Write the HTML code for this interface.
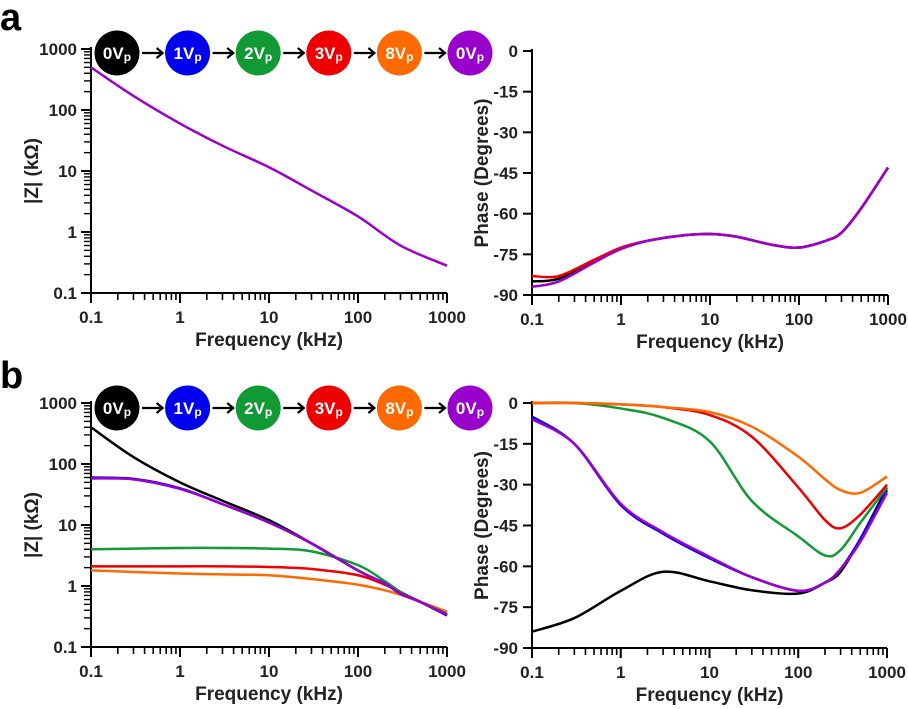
<!DOCTYPE html>
<html><head><meta charset="utf-8"><style>
body{margin:0;background:#fff;}
svg{display:block;font-family:"Liberation Sans",Arial,sans-serif;font-weight:bold;}
</style></head><body>
<svg id="fig" width="908" height="709" viewBox="0 0 908 709" xmlns="http://www.w3.org/2000/svg"></svg>
<script>
const freqA=[0.1,0.3,1,3,10,30,100,300,1000];
const zA=[500,170,60,26,11.5,4.8,1.8,0.6,0.28];
const freqAP=[0.1,0.2,0.5,1,2,5,10,20,50,100,200,300,500,1000];
const phA_purple=[-87,-85,-78,-73,-70,-68,-67.5,-68.5,-71.5,-72.5,-70,-67,-58,-43];
const phA_black=[-85,-84,-77.5,-73,-70,-68,-67.5,-68.5,-71.5,-72.5,-70,-67,-58,-43];
const phA_red=[-83,-83,-77,-72.5,-70,-68,-67.5,-68.5,-71.5,-72.5,-70,-67,-58,-43];
const freqB=[0.1,0.3,1,3,10,30,100,200,300,500,1000];
const zB_black=[400,130,50,25,12,5,1.8,1.1,0.75,0.55,0.33];
const zB_blue=[60,57,40,22,11,5,1.8,1.1,0.75,0.55,0.33];
const zB_purple=[58,56,39,22,11,5,1.8,1.1,0.75,0.55,0.34];
const zB_green=[4,4.1,4.2,4.2,4.1,3.7,2.2,1.2,0.8,0.55,0.35];
const zB_red=[2.1,2.1,2.1,2.1,2.05,1.9,1.5,1.05,0.8,0.55,0.35];
const zB_orange=[1.8,1.7,1.6,1.55,1.5,1.3,1.05,0.85,0.72,0.55,0.38];
const phB_black=[-84,-79,-69,-62,-65.5,-68.8,-70,-66,-62,-50,-31];
const phB_blue=[-5,-15,-37.5,-48,-57,-64,-69,-66,-61,-50,-32];
const phB_purple=[-6,-15,-37,-47.5,-56.5,-64,-69,-66,-61,-51,-33];
const phB_green=[0,0,-2,-5.5,-14,-36,-49,-56,-54,-44,-31];
const phB_red=[0,0,-0.5,-1.5,-4.4,-12.4,-31,-43,-46,-41,-30];
const phB_orange=[0,0,-0.5,-1.5,-3.3,-8.7,-19.7,-28,-32,-33,-27];
const stages=["0V","1V","2V","3V","8V","0V"];
const stageColors=["#000000","#0000ee","#119933","#ee0000","#ff6a00","#9900cc"];
const xTicks=[0.1,1,10,100,1000];
const xTickLabels=["0.1","1","10","100","1000"];
const zTicks=[0.1,1,10,100,1000];
const zTickLabels=["0.1","1","10","100","1000"];
const phTicks=[0,-15,-30,-45,-60,-75,-90];

const NS="http://www.w3.org/2000/svg";
const svg=document.getElementById('fig');
function el(t,a,p){const e=document.createElementNS(NS,t);for(const k in a)e.setAttribute(k,a[k]);(p||svg).appendChild(e);return e;}
function txt(s,a,p){const e=el('text',a,p);e.textContent=s;return e;}

function makePanel(name,x0,x1,y0,y1,isLog,ymin,ymax,yticks,ylabels,ytitle){
  const g=el('g',{});
  
  
  const lx0=Math.log10(0.1),lx1=Math.log10(1000);
  const X=f=>x0+(Math.log10(f)-lx0)/(lx1-lx0)*(x1-x0);
  const Y=isLog?(v=>y1-(Math.log10(v)-Math.log10(ymin))/(Math.log10(ymax)-Math.log10(ymin))*(y1-y0))
             :(v=>y1-(v-ymin)/(ymax-ymin)*(y1-y0));
  const ax=el('g',{stroke:'#000','stroke-width':2,fill:'none'},g);
  
  
  el('line',{x1:x0,y1:y0-2,x2:x0,y2:y1},ax);
  el('line',{x1:x0,y1:y1,x2:x1,y2:y1},ax);
  for(let d=-1;d<=3;d++)for(let m=1;m<=10;m++){const f=m*Math.pow(10,d);if(f>1000)continue;
    const xx=X(f);el('line',{x1:xx,y1:y1,x2:xx,y2:y1+(m===1||m===10?10:7),'stroke-width':m===1?2:1.6},ax);}
  xTicks.forEach((t,i)=>{const e=txt(xTickLabels[i],{x:X(t),y:y1+30,'text-anchor':'middle','font-size':17,fill:'#222'},g);
    });
  const xt=txt('Frequency (kHz)',{x:(x0+x1)/2,y:y1+53,'text-anchor':'middle','font-size':19,fill:'#222'},g);
  
  if(isLog){
    for(let d=-1;d<=2;d++)for(let m=1;m<=10;m++){const v=m*Math.pow(10,d);const yy=Y(v);
      el('line',{x1:x0-(m===1||m===10?10:7),y1:yy,x2:x0,y2:yy,'stroke-width':m===1||m===10?2:1.4},ax);}
  } else {
    yticks.forEach(t=>el('line',{x1:x0-9,y1:Y(t),x2:x0,y2:Y(t)},ax));
  }
  yticks.forEach((t,i)=>{const e=txt(ylabels[i],{x:x0-14,y:Y(t)+6,'text-anchor':'end','font-size':17,fill:'#222'},g);
    });
  const yt=txt(ytitle,{x:0,y:0,'text-anchor':'middle','font-size':19,fill:'#222',transform:`translate(${isLog?x0-53:x0-44},${(y0+y1)/2}) rotate(-90)`},g);
  
  return {g,X,Y};
}
function curve(P,fs,vs,color,name){
  const pts=fs.map((f,i)=>[P.X(f),P.Y(vs[i])]);
  let d=`M${pts[0][0]},${pts[0][1]}`;
  for(let i=0;i<pts.length-1;i++){const p0=pts[Math.max(0,i-1)],p1=pts[i],p2=pts[i+1],p3=pts[Math.min(pts.length-1,i+2)];
    d+=` C${p1[0]+(p2[0]-p0[0])/6},${p1[1]+(p2[1]-p0[1])/6} ${p2[0]-(p3[0]-p1[0])/6},${p2[1]-(p3[1]-p1[1])/6} ${p2[0]},${p2[1]}`;}
  const e=el('path',{d,fill:'none',stroke:color,'stroke-width':2.5,'stroke-linejoin':'round'},P.g);
  
  
}
function stagesRow(cy,name){
  const g=el('g',{});
  
  
  const cx0=117,dx=70.6;
  stages.forEach((s,i)=>{const cx=cx0+i*dx;
    const c=el('circle',{cx,cy,r:22.5,fill:stageColors[i]},g);
    
    const t=el('text',{x:cx,y:cy+6,'text-anchor':'middle','font-size':17,fill:'#fff'},g);
    t.textContent=s;const ts=el('tspan',{'font-size':12,dy:2},t);ts.textContent='p';
    if(i<stages.length-1){const ar=el('g',{stroke:'#000','stroke-width':2.2,fill:'none'},g);
      
      el('line',{x1:cx+25,y1:cy,x2:cx+dx-25,y2:cy},ar);
      el('polyline',{points:`${cx+dx-31},${cy-5} ${cx+dx-25},${cy} ${cx+dx-31},${cy+5}`},ar);}
  });
}
const pl=txt('a',{x:0,y:30,'font-size':38,fill:'#000'});
const pl2=txt('b',{x:0,y:388,'font-size':38,fill:'#000'});
const phL=phTicks.map(String);
const A1=makePanel('impedance-chart-a',91,447,49,293,true,0.1,1000,zTicks,zTickLabels,'|Z| (kΩ)');
curve(A1,freqA,zA,'#9900cc','series-z-a');
const A2=makePanel('phase-chart-a',532,888,51,295,false,-90,0,phTicks,phL,'Phase (Degrees)');
curve(A2,freqAP,phA_black,'#000','series-phase-black');
curve(A2,freqAP,phA_red,'#ee0000','series-phase-red');
curve(A2,freqAP,phA_purple,'#9900cc','series-phase-purple');
stagesRow(53,'stage-legend-a');
const B1=makePanel('impedance-chart-b',91,447,403,647,true,0.1,1000,zTicks,zTickLabels,'|Z| (kΩ)');
curve(B1,freqB,zB_orange,'#ff6a00','series-z-orange');
curve(B1,freqB,zB_red,'#ee0000','series-z-red');
curve(B1,freqB,zB_green,'#119933','series-z-green');
curve(B1,freqB,zB_black,'#000','series-z-black');
curve(B1,freqB,zB_blue,'#0000ee','series-z-blue');
curve(B1,freqB,zB_purple,'#9900cc','series-z-purple');
const B2=makePanel('phase-chart-b',532,887,403,648,false,-90,0,phTicks,phL,'Phase (Degrees)');
curve(B2,freqB,phB_black,'#000','series-phase-black');
curve(B2,freqB,phB_blue,'#0000ee','series-phase-blue');
curve(B2,freqB,phB_purple,'#9900cc','series-phase-purple');
curve(B2,freqB,phB_green,'#119933','series-phase-green');
curve(B2,freqB,phB_red,'#ee0000','series-phase-red');
curve(B2,freqB,phB_orange,'#ff6a00','series-phase-orange');
stagesRow(408,'stage-legend-b');
</script>
</body></html>
